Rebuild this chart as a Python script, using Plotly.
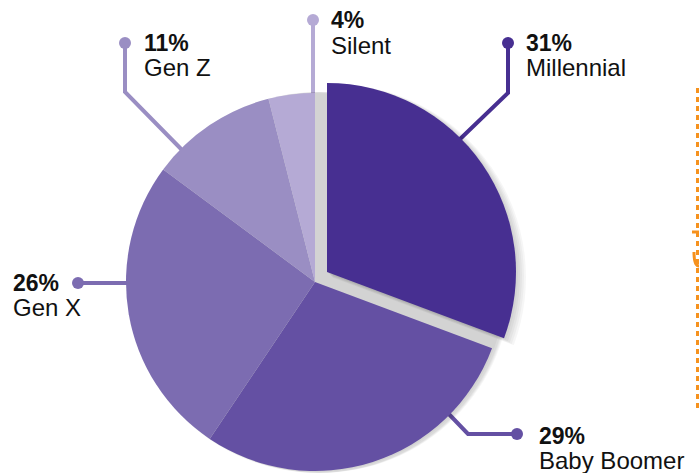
import plotly.graph_objects as go

# ---- data ----
generations = ["Millennial", "Baby Boomer", "Gen X", "Gen Z", "Silent"]
shares = [31, 29, 26, 11, 4]
pct_labels = ["31%", "29%", "26%", "11%", "4%"]

# ---- style ----
colors = ["#472f91", "#6450a3", "#7c6cb1", "#9a8ec3", "#b5aad5"]
W, H = 699, 473
CX, CY, R = 315, 282, 189          # pie centre / radius in pixels
PULL_DX, PULL_DY = 12, -10         # offset of the pulled Millennial slice
FONT = "Liberation Sans, Arial, sans-serif"

# label placement (pixels): text x, line1 y, line2 y
label_pos = {
    "Millennial": (524, 43, 67),
    "Baby Boomer": (537, 436, 460),
    "Gen X": (11, 283, 307),
    "Gen Z": (142, 43, 68),
    "Silent": (329, 20, 46),
}
# leader line paths (pixels), first point = dot
leader_paths = {
    "Millennial": [(508, 43), (508, 93), (458, 141)],
    "Baby Boomer": [(517, 434), (468, 434), (445, 410)],
    "Gen X": [(78, 283), (130, 283)],
    "Gen Z": [(125, 43), (125, 92), (184, 152)],
    "Silent": [(313, 20), (313, 98)],
}


def domain(cx, cy, r):
    y0 = max(0.0, (H - cy - r) / H)
    y1 = min(1.0, (H - cy + r) / H)
    x0 = max(0.0, (cx - r) / W)
    x1 = min(1.0, (cx + r) / W)
    return dict(x=[x0, x1], y=[y0, y1])


fig = go.Figure()

# soft drop shadow
shade = "rgba(0,0,0,0.035)"
for k in range(5):
    dx = 1.5 + k
    cy_s = CY + 0.5
    rr = min(R + 0.5 + k, H - cy_s)
    fig.add_trace(go.Pie(values=[1], marker=dict(colors=[shade], line=dict(width=0)),
                         domain=domain(CX + dx, cy_s, rr), textinfo="none",
                         hoverinfo="skip", showlegend=False, sort=False))
    fig.add_trace(go.Pie(values=shares,
                         marker=dict(colors=[shade] + ["rgba(0,0,0,0)"] * 4, line=dict(width=0)),
                         domain=domain(CX + PULL_DX + dx, CY + PULL_DY + 1.5 + k, R + 0.5 + k),
                         textinfo="none", hoverinfo="skip", showlegend=False,
                         sort=False, direction="clockwise", rotation=0))

# main pie (all but Millennial)
fig.add_trace(go.Pie(labels=generations, values=shares,
                     marker=dict(colors=["rgba(0,0,0,0)"] + colors[1:], line=dict(width=0)),
                     domain=domain(CX, CY, R), textinfo="none", showlegend=False,
                     sort=False, direction="clockwise", rotation=0))
# pulled Millennial slice
fig.add_trace(go.Pie(labels=generations, values=shares,
                     marker=dict(colors=[colors[0]] + ["rgba(0,0,0,0)"] * 4, line=dict(width=0)),
                     domain=domain(CX + PULL_DX, CY + PULL_DY, R), textinfo="none",
                     showlegend=False, sort=False, direction="clockwise", rotation=0))

# leader lines with dots
for g, c in zip(generations, colors):
    pts = leader_paths[g]
    fig.add_trace(go.Scatter(x=[p[0] for p in pts], y=[p[1] for p in pts], mode="lines",
                             line=dict(color=c, width=4), hoverinfo="skip", showlegend=False))
    fig.add_trace(go.Scatter(x=[pts[0][0]], y=[pts[0][1]], mode="markers",
                             marker=dict(color=c, size=12), hoverinfo="skip", showlegend=False))

annotations = []
for g, p in zip(generations, pct_labels):
    x, y1, y2 = label_pos[g]
    annotations.append(dict(x=x / W, y=1 - y1 / H, xref="paper", yref="paper",
                            xanchor="left", yanchor="middle", showarrow=False,
                            text=f"<b>{p}</b>", font=dict(family=FONT, size=23, color="#111111")))
    annotations.append(dict(x=x / W, y=1 - y2 / H, xref="paper", yref="paper",
                            xanchor="left", yanchor="middle", showarrow=False,
                            text=g, font=dict(family=FONT, size=24, color="#111111")))

shapes = [
    dict(type="line", xref="paper", yref="paper", x0=697.5 / W, x1=697.5 / W,
         y0=1 - 88 / H, y1=1 - 410 / H, line=dict(color="#f6921e", width=3, dash="5px,4px")),
    dict(type="line", xref="paper", yref="paper", x0=692 / W, x1=699 / W,
         y0=1 - 232 / H, y1=1 - 232 / H, line=dict(color="#f6921e", width=3)),
    dict(type="path", xref="paper", yref="paper",
         path=f"M {694/W} {1-252/H} Q {694/W} {1-266/H} {699/W} {1-266/H}",
         line=dict(color="#f6921e", width=3)),
]

fig.update_layout(
    width=W, height=H, margin=dict(l=0, r=0, t=0, b=0),
    paper_bgcolor="white", plot_bgcolor="rgba(0,0,0,0)",
    xaxis=dict(range=[0, W], visible=False, domain=[0, 1], fixedrange=True),
    yaxis=dict(range=[H, 0], visible=False, domain=[0, 1], fixedrange=True),
    annotations=annotations, shapes=shapes, showlegend=False,
)

fig.write_html("out.html")
